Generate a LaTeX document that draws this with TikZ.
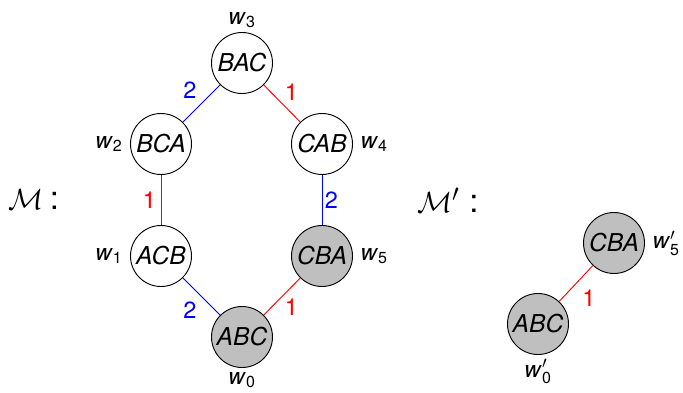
\documentclass[tikz,border=0pt]{standalone}
\usepackage{amsmath}
\usepackage{fontspec}
\setmainfont{TeX Gyre Heros}
\usetikzlibrary{positioning}

\newcommand{\wld}[1]{\textit{w}$_{\textup{#1}}$}
\newcommand{\wlp}[1]{\textit{w}$'_{\textup{#1}}$}

\begin{document}
\begin{tikzpicture}[
  x=0.03cm, y=-0.03cm,
  world/.style = {draw, circle, line width=0.8pt, minimum size=1.83cm, inner sep=0pt,
                  font=\fontsize{21}{25}\selectfont\itshape},
  real/.style = {world, fill=gray!50},
  wlab/.style = {font=\fontsize{19.5}{23}\selectfont},
  agone/.style = {red, line width=0.8pt},
  agtwo/.style = {blue, line width=0.8pt},
  elab/.style = {font=\fontsize{20}{24}\selectfont, inner sep=4pt},
  mlab/.style = {font=\fontsize{28}{32}\selectfont, anchor=west, inner sep=0pt},
  node distance=3pt
]
  \useasboundingbox (0,0) rectangle (683,392);

  % Model M
  \node[mlab] (mmod) at (8,200) {$\mathcal{M}$\hspace{0.2em}:};

  \node[world] (bac) at (242,63) {BAC};
  \node[world] (bca) at (161,144) {BCA};
  \node[world] (cab) at (322,144) {CAB};
  \node[world] (acb) at (161,256) {ACB};
  \node[real]  (cba) at (322,256) {CBA};
  \node[real]  (abc) at (242,337) {ABC};

  \node[wlab, above=0pt of bac] {\wld{3}};
  \node[wlab, left=of bca] {\wld{2}};
  \node[wlab, right=of cab] {\wld{4}};
  \node[wlab, left=of acb] {\wld{1}};
  \node[wlab, right=of cba] {\wld{5}};
  \node[wlab, below=0pt of abc] {\wld{0}};

  \draw[agtwo] (bac) -- node[elab, above left, text=blue] {2} (bca);
  \draw[agone] (bac) -- node[elab, above right, inner sep=2pt, text=red] {1} (cab);
  \draw[agone] (bca) -- node[elab, left, text=red] {1} (acb);
  \draw[agtwo] (cab) -- node[elab, right, inner sep=2pt, text=blue] {2} (cba);
  \draw[agtwo] (acb) -- node[elab, below left, text=blue] {2} (abc);
  \draw[agone] (abc) -- node[elab, below right, inner sep=2pt, text=red] {1} (cba);

  % Model M'
  \node[mlab] (mmodp) at (417,200) {$\mathcal{M}'$\hspace{0.3em}:};

  \node[real] (cbap) at (614,243) {CBA};
  \node[real] (abcp) at (538,324) {ABC};

  \node[wlab, right=of cbap] {\wlp{5}};
  \node[wlab, below=0pt of abcp] {\wlp{0}};

  \draw[agone] (abcp) -- node[elab, below right, inner sep=5pt, text=red] {1} (cbap);

\end{tikzpicture}
\end{document}
